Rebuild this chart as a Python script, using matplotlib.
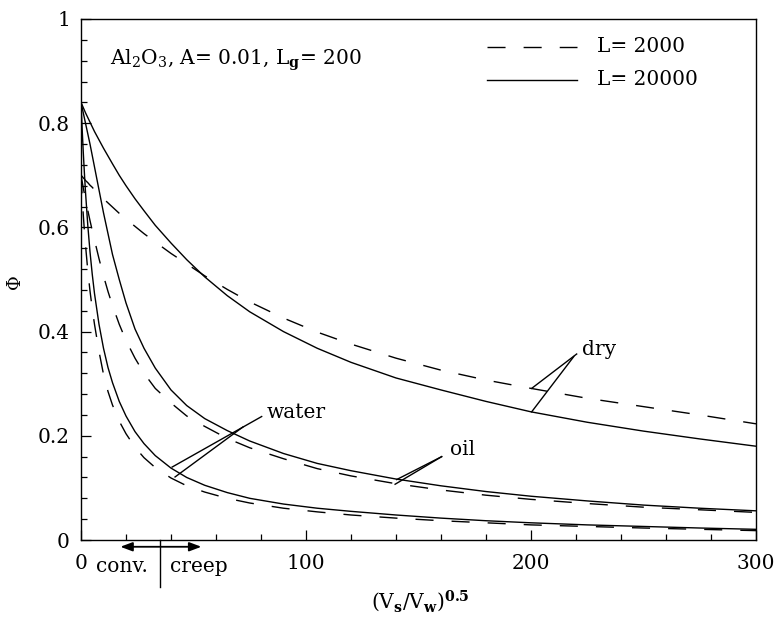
import matplotlib
matplotlib.use('Agg')
import matplotlib.pyplot as plt
from matplotlib.ticker import MultipleLocator, FixedLocator

plt.rcParams['font.family'] = ['DejaVu Serif']
plt.rcParams['mathtext.fontset'] = 'dejavuserif'
plt.rcParams['lines.scale_dashes'] = False

# ---- data ----
x = [0, 0.5, 1, 1.5, 2, 3, 4, 5, 6, 8, 10, 12, 14, 17, 20, 24, 28, 33, 40, 47, 55,
     65, 75, 90, 105, 120, 140, 160, 180, 200, 225, 250, 275, 300]

dry_L20000 = [0.840, 0.835, 0.830, 0.825, 0.820, 0.811, 0.802, 0.793, 0.784, 0.768, 0.752,
              0.737, 0.722, 0.700, 0.680, 0.655, 0.632, 0.604, 0.570, 0.538, 0.505,
              0.469, 0.438, 0.400, 0.368, 0.341, 0.311, 0.288, 0.266, 0.246, 0.226,
              0.209, 0.194, 0.180]
dry_L2000 = [0.700, 0.698, 0.695, 0.693, 0.690, 0.686, 0.681, 0.677, 0.672, 0.664, 0.655,
             0.647, 0.639, 0.627, 0.616, 0.602, 0.588, 0.572, 0.550, 0.530, 0.507,
             0.481, 0.457, 0.426, 0.399, 0.376, 0.349, 0.326, 0.307, 0.291, 0.272,
             0.256, 0.240, 0.223]
oil_L20000 = [0.840, 0.830, 0.820, 0.810, 0.800, 0.780, 0.760, 0.738, 0.716, 0.672, 0.628,
              0.588, 0.548, 0.500, 0.455, 0.405, 0.368, 0.330, 0.288, 0.258, 0.233,
              0.210, 0.190, 0.166, 0.147, 0.133, 0.117, 0.104, 0.093, 0.084, 0.075,
              0.067, 0.061, 0.056]
oil_L2000 = [0.700, 0.688, 0.676, 0.665, 0.654, 0.633, 0.613, 0.594, 0.576, 0.540, 0.507,
             0.477, 0.450, 0.414, 0.383, 0.349, 0.320, 0.291, 0.263, 0.238, 0.218,
             0.195, 0.177, 0.156, 0.137, 0.123, 0.108, 0.096, 0.086, 0.078, 0.070,
             0.063, 0.058, 0.053]
water_L20000 = [0.840, 0.790, 0.745, 0.705, 0.668, 0.605, 0.553, 0.510, 0.473, 0.414, 0.368,
                0.331, 0.302, 0.266, 0.238, 0.208, 0.185, 0.162, 0.138, 0.120, 0.105,
                0.091, 0.080, 0.069, 0.061, 0.055, 0.048, 0.042, 0.037, 0.033, 0.029,
                0.026, 0.023, 0.0205]
water_L2000 = [0.700, 0.660, 0.625, 0.594, 0.566, 0.518, 0.478, 0.444, 0.414, 0.362, 0.318,
               0.285, 0.259, 0.228, 0.204, 0.178, 0.158, 0.139, 0.119, 0.104, 0.092,
               0.080, 0.071, 0.061, 0.054, 0.048, 0.042, 0.037, 0.033, 0.029, 0.026,
               0.023, 0.0205, 0.018]

x_ticks = [0, 100, 200, 300]
x_tick_labels = ['0', '100', '200', '300']
y_ticks = [0, 0.2, 0.4, 0.6, 0.8, 1.0]
y_tick_labels = ['0', '0.2', '0.4', '0.6', '0.8', '1']

legend_labels = ['L= 2000', 'L= 20000']
title_text = r'Al$_2$O$_3$, A= 0.01, L$_\mathbf{g}$= 200'

# ---- figure ----
W, H = 775, 617
fig = plt.figure(figsize=(W / 100, H / 100), dpi=100)
ax = fig.add_axes([81 / W, 1 - 540 / H, (756 - 81) / W, (540 - 19) / H])
ax.set_xlim(0, 300)
ax.set_ylim(0, 1)

dash = (0, (13, 13))
lw = 1.0
for solid, dashed in [(dry_L20000, dry_L2000), (oil_L20000, oil_L2000),
                      (water_L20000, water_L2000)]:
    ax.plot(x, solid, color='k', lw=lw, solid_capstyle='butt')
    ax.plot(x, dashed, color='k', lw=lw, linestyle=dash, dash_capstyle='butt')

ax.xaxis.set_major_locator(FixedLocator(x_ticks))
ax.set_xticklabels(x_tick_labels)
ax.yaxis.set_major_locator(FixedLocator(y_ticks))
ax.set_yticklabels(y_tick_labels)
ax.xaxis.set_minor_locator(MultipleLocator(20))
ax.yaxis.set_minor_locator(MultipleLocator(0.04))
ax.tick_params(which='both', direction='in', top=False, right=False, width=0.9)
ax.tick_params(which='major', length=7.2)
ax.tick_params(which='minor', length=4)
ax.tick_params(axis='x', pad=10, labelsize=14.5)
ax.tick_params(axis='y', pad=8, labelsize=14.5)
for s in ax.spines.values():
    s.set_linewidth(1.0)

fs = 14.5
# title text
ax.text(12.9, 0.912, title_text, fontsize=fs, va='baseline', ha='left')

# legend (manual)
ax.plot([180.3, 220.3], [0.947, 0.947], color='k', lw=lw, linestyle=dash)
ax.plot([180.3, 220.3], [0.883, 0.883], color='k', lw=lw)
ax.text(229.2, 0.947, legend_labels[0], fontsize=fs, va='center', ha='left')
ax.text(229.2, 0.883, legend_labels[1], fontsize=fs, va='center', ha='left')

# curve labels with leader lines
ax.text(222.5, 0.355, 'dry', fontsize=fs, va='baseline', ha='left')
ax.plot([220.3, 200.3], [0.357, 0.291], color='k', lw=lw)
ax.plot([219.0, 200.3], [0.352, 0.246], color='k', lw=lw)

ax.text(164, 0.163, 'oil', fontsize=fs, va='baseline', ha='left')
ax.plot([160.3, 140.3], [0.160, 0.116], color='k', lw=lw)
ax.plot([160.3, 139.6], [0.160, 0.107], color='k', lw=lw)

ax.text(82.5, 0.234, 'water', fontsize=fs, va='baseline', ha='left')
ax.plot([80.3, 40.5], [0.237, 0.140], color='k', lw=lw)
ax.plot([72.0, 41.8], [0.217, 0.121], color='k', lw=lw)

# conv./creep marker below the axis
ax.text(18.4, -0.061, 'conv.', fontsize=fs, va='baseline', ha='center')
ax.text(52.5, -0.061, 'creep', fontsize=fs, va='baseline', ha='center')
ax.annotate('', xy=(17.5, -0.013), xytext=(53.5, -0.013),
            arrowprops=dict(arrowstyle='<|-|>,head_length=0.4,head_width=0.15',
                            color='k', lw=1.3, mutation_scale=18,
                            shrinkA=0, shrinkB=0),
            annotation_clip=False)
ax.plot([35.1, 35.1], [0.0, -0.09], color='k', lw=lw, clip_on=False)

# axis labels
fig.text(420 / W, 1 - 608 / H, r'(V$_\mathbf{s}$/V$_\mathbf{w}$)$^\mathbf{0.5}$',
         fontsize=14.5, ha='center', va='baseline')
fig.text(15 / W, 1 - 282 / H, 'Φ', fontsize=13, rotation=90, ha='center', va='center')

fig.savefig('out.png', dpi=100)
